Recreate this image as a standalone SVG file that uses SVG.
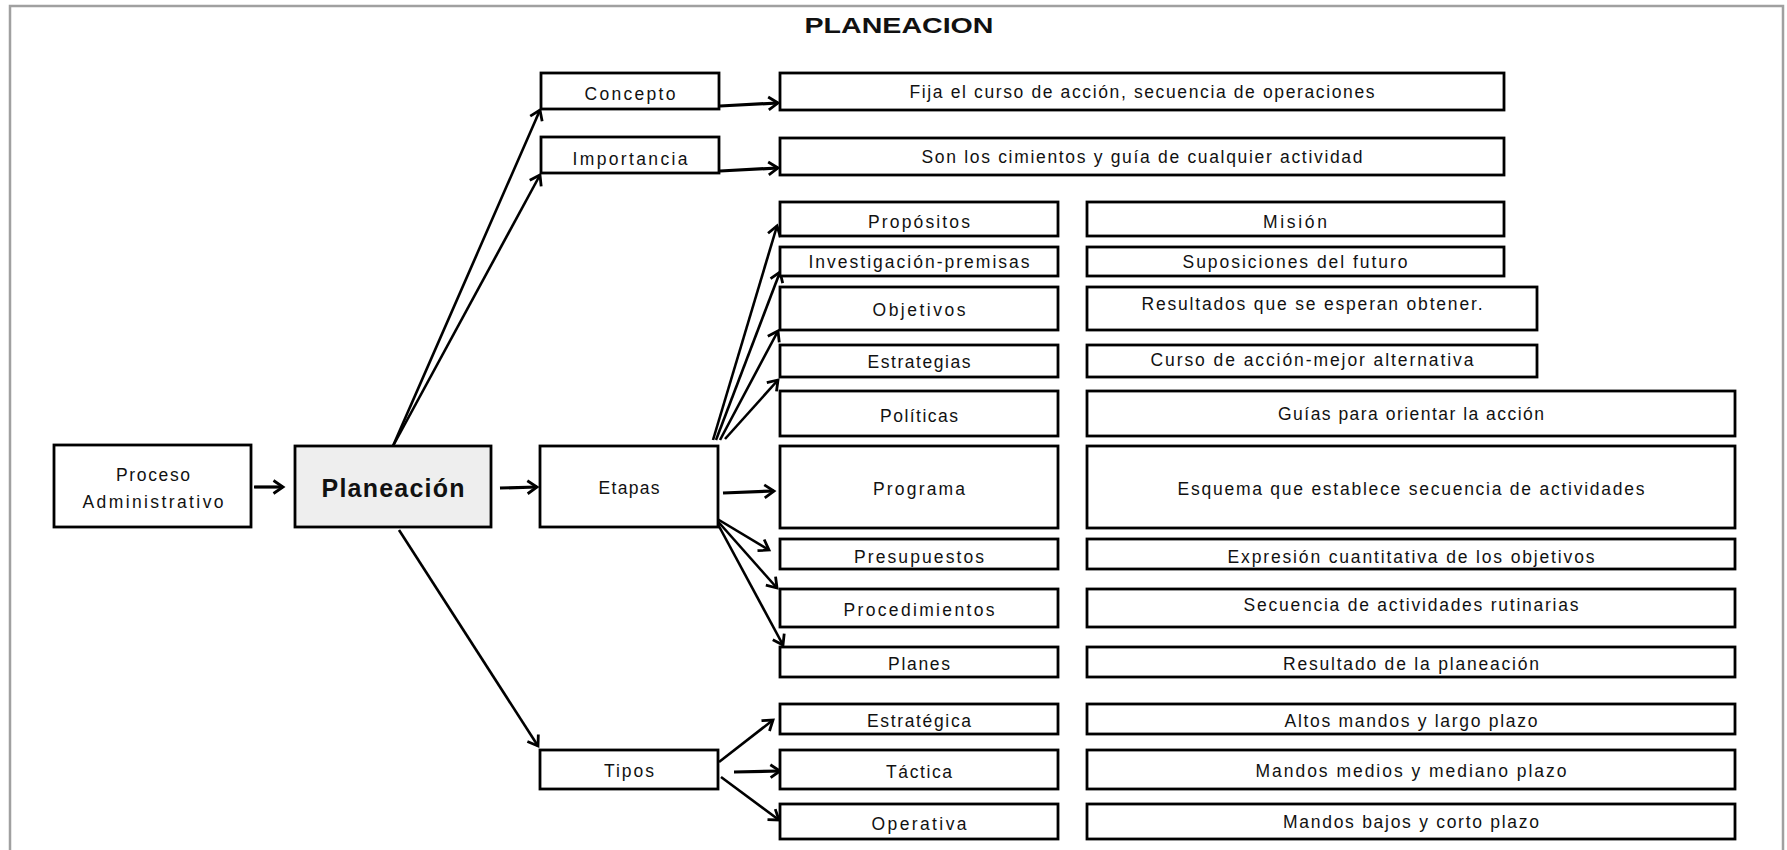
<svg xmlns="http://www.w3.org/2000/svg" width="1787" height="850" viewBox="0 0 1787 850">
<defs>
<style>
.b{fill:#fff;stroke:#000;stroke-width:2.8}
.g{fill:#eeeeee;stroke:#000;stroke-width:2.8}
.t{font-family:"Liberation Sans",Arial,sans-serif;font-size:17.5px;fill:#111;text-anchor:middle}
.tb{font-family:"Liberation Sans",Arial,sans-serif;font-size:25px;font-weight:bold;fill:#111;text-anchor:middle}
.ttl{font-family:"Liberation Sans",Arial,sans-serif;font-size:22px;font-weight:bold;fill:#111;text-anchor:middle}
.c line{stroke:#000;stroke-width:2.6;fill:none;marker-end:url(#ah)}
.c line.k{stroke-width:3.2}
</style>
<marker id="ah" markerUnits="userSpaceOnUse" markerWidth="14" markerHeight="18" refX="11" refY="8" orient="auto" viewBox="0 0 14 16">
<path d="M1.5,1.5 L11,8 L1.5,14.5" fill="none" stroke="#000" stroke-width="2.8" stroke-linejoin="miter"/>
</marker>
</defs>
<rect width="1787" height="850" fill="#fff"/>
<path d="M10,850 V6 H1783 V850" fill="none" stroke="#a0a0a0" stroke-width="2.5"/>
<text class="ttl" x="899" y="33" textLength="189" lengthAdjust="spacingAndGlyphs">PLANEACION</text>

<g class="c" id="connectors">
<line class="k" x1="254" y1="487" x2="283" y2="487"/>
<line class="k" x1="500" y1="488" x2="537" y2="487"/>
<line x1="393" y1="446" x2="540" y2="110"/>
<line x1="393" y1="446" x2="540" y2="175"/>
<line x1="399" y1="530" x2="538" y2="746"/>
<line class="k" x1="720" y1="106" x2="778" y2="103"/>
<line class="k" x1="720" y1="171" x2="778" y2="168"/>
<line x1="713" y1="440" x2="777" y2="226"/>
<line x1="716" y1="440" x2="780" y2="272"/>
<line x1="720" y1="440" x2="778" y2="331"/>
<line x1="725" y1="439" x2="778" y2="380"/>
<line class="k" x1="723" y1="493" x2="774" y2="491"/>
<line x1="714" y1="517" x2="769" y2="550"/>
<line x1="714" y1="517" x2="777" y2="588"/>
<line x1="714" y1="517" x2="783" y2="645"/>
<line x1="719" y1="762" x2="773" y2="720"/>
<line class="k" x1="734" y1="772" x2="780" y2="771"/>
<line x1="721" y1="777" x2="779" y2="820"/>
</g>

<g id="proceso"><rect class="b" x="54" y="445" width="197" height="82"/><text class="t" x="153" y="481" textLength="74">Proceso</text><text class="t" x="153" y="508" textLength="141">Administrativo</text></g>
<g id="planeacion"><rect class="g" x="295" y="446" width="196" height="81"/><text class="tb" x="393" y="497" textLength="143">Planeación</text></g>
<g id="etapas"><rect class="b" x="540" y="446" width="178" height="81"/><text class="t" x="629" y="494" textLength="61">Etapas</text></g>
<g id="tipos"><rect class="b" x="540" y="750" width="178" height="39"/><text class="t" x="629" y="777" textLength="50">Tipos</text></g>
<g id="concepto"><rect class="b" x="541" y="73" width="178" height="36"/><text class="t" x="630" y="100" textLength="91">Concepto</text></g>
<g id="importancia"><rect class="b" x="541" y="137" width="178" height="36"/><text class="t" x="630" y="165" textLength="115">Importancia</text></g>
<g id="fija"><rect class="b" x="780" y="73" width="724" height="37"/><text class="t" x="1142" y="98" textLength="465">Fija el curso de acción, secuencia de operaciones</text></g>
<g id="son"><rect class="b" x="780" y="138" width="724" height="37"/><text class="t" x="1142" y="163" textLength="441">Son los cimientos y guía de cualquier actividad</text></g>

<g id="propositos"><rect class="b" x="780" y="202" width="278" height="34"/><text class="t" x="919" y="228" textLength="102">Propósitos</text></g>
<g id="mision"><rect class="b" x="1087" y="202" width="417" height="34"/><text class="t" x="1295" y="228" textLength="64">Misión</text></g>
<g id="investigacion"><rect class="b" x="780" y="247" width="278" height="29"/><text class="t" x="919" y="268" textLength="221">Investigación-premisas</text></g>
<g id="suposiciones"><rect class="b" x="1087" y="247" width="417" height="29"/><text class="t" x="1295" y="268" textLength="225">Suposiciones del futuro</text></g>
<g id="objetivos"><rect class="b" x="780" y="287" width="278" height="43"/><text class="t" x="919" y="316" textLength="93">Objetivos</text></g>
<g id="resultados"><rect class="b" x="1087" y="287" width="450" height="43"/><text class="t" x="1312" y="310" textLength="341">Resultados que se esperan obtener.</text></g>
<g id="estrategias"><rect class="b" x="780" y="345" width="278" height="32"/><text class="t" x="919" y="368" textLength="103">Estrategias</text></g>
<g id="curso"><rect class="b" x="1087" y="345" width="450" height="32"/><text class="t" x="1312" y="366" textLength="323">Curso de acción-mejor alternativa</text></g>
<g id="politicas"><rect class="b" x="780" y="391" width="278" height="45"/><text class="t" x="919" y="422" textLength="78">Políticas</text></g>
<g id="guias"><rect class="b" x="1087" y="391" width="648" height="45"/><text class="t" x="1411" y="420" textLength="266">Guías para orientar la acción</text></g>
<g id="programa"><rect class="b" x="780" y="446" width="278" height="82"/><text class="t" x="919" y="495" textLength="92">Programa</text></g>
<g id="esquema"><rect class="b" x="1087" y="446" width="648" height="82"/><text class="t" x="1411" y="495" textLength="467">Esquema que establece secuencia de actividades</text></g>
<g id="presupuestos"><rect class="b" x="780" y="539" width="278" height="30"/><text class="t" x="919" y="563" textLength="130">Presupuestos</text></g>
<g id="expresion"><rect class="b" x="1087" y="539" width="648" height="30"/><text class="t" x="1411" y="563" textLength="367">Expresión cuantitativa de los objetivos</text></g>
<g id="procedimientos"><rect class="b" x="780" y="589" width="278" height="38"/><text class="t" x="919" y="616" textLength="151">Procedimientos</text></g>
<g id="secuencia"><rect class="b" x="1087" y="589" width="648" height="38"/><text class="t" x="1411" y="611" textLength="335">Secuencia de actividades rutinarias</text></g>
<g id="planes"><rect class="b" x="780" y="647" width="278" height="30"/><text class="t" x="919" y="670" textLength="62">Planes</text></g>
<g id="resultado"><rect class="b" x="1087" y="647" width="648" height="30"/><text class="t" x="1411" y="670" textLength="256">Resultado de la planeación</text></g>
<g id="estrategica"><rect class="b" x="780" y="704" width="278" height="30"/><text class="t" x="919" y="727" textLength="104">Estratégica</text></g>
<g id="altos"><rect class="b" x="1087" y="704" width="648" height="30"/><text class="t" x="1411" y="727" textLength="253">Altos mandos y largo plazo</text></g>
<g id="tactica"><rect class="b" x="780" y="750" width="278" height="39"/><text class="t" x="919" y="778" textLength="66">Táctica</text></g>
<g id="medios"><rect class="b" x="1087" y="750" width="648" height="39"/><text class="t" x="1411" y="777" textLength="311">Mandos medios y mediano plazo</text></g>
<g id="operativa"><rect class="b" x="780" y="804" width="278" height="35"/><text class="t" x="919" y="830" textLength="95">Operativa</text></g>
<g id="bajos"><rect class="b" x="1087" y="804" width="648" height="35"/><text class="t" x="1411" y="828" textLength="256">Mandos bajos y corto plazo</text></g>
</svg>
